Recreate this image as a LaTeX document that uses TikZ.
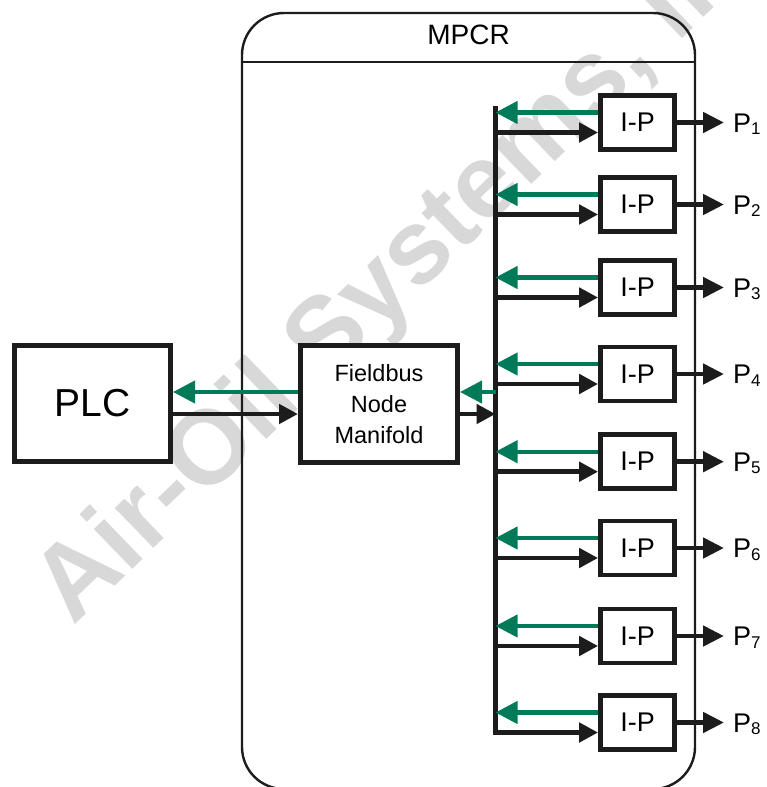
\documentclass[tikz,border=0pt]{standalone}
\usepackage{fontspec}
\setmainfont{Liberation Sans}
\usetikzlibrary{arrows.meta}
\definecolor{ink}{RGB}{28,28,28}
\definecolor{sig}{RGB}{0,122,88}
\definecolor{wmgray}{RGB}{216,216,216}
\begin{document}
\begin{tikzpicture}[x=1pt,y=-1pt,
  box/.style={draw=ink, line width=4.8pt, fill=white, inner sep=0pt, align=center},
  ipbox/.style={box, minimum width=74pt, minimum height=54pt, font=\fontsize{27}{27}\selectfont},
  blk/.style={draw=ink, line width=4.8pt, -{Triangle[length=19pt,width=19pt]}},
  grn/.style={draw=sig, line width=4.2pt, -{Triangle[length=22pt,width=22pt]}},
  outarr/.style={draw=ink, line width=4.8pt, -{Triangle[length=21pt,width=20pt]}},
  plabel/.style={anchor=base west, inner sep=0pt, font=\fontsize{27}{27}\selectfont},
  frame/.style={draw=ink, line width=2.4pt},
]
\useasboundingbox (0,0) rectangle (766,787);
\clip (0,0) rectangle (766,787);

% watermark
\node[text=wmgray, rotate=44, anchor=base west, inner sep=0pt,
      font=\fontsize{105}{105}\selectfont\bfseries] (watermark) at (73,627) {Air-Oil Systems, Inc.};

% MPCR container
\draw[frame, rounded corners=42pt] (242,13) rectangle (695,789);
\draw[frame] (242,62) -- (695,62);
\node[font=\fontsize{28}{28}\selectfont] (mpcr) at (468.5,35) {MPCR};

% main boxes
\node[box, minimum width=156.2pt, minimum height=116.2pt, font=\fontsize{39}{39}\selectfont] (plc) at (92.5,403.5) {PLC};
\node[box, minimum width=157.2pt, minimum height=117.2pt, font=\fontsize{23.5}{31}\selectfont] (fb) at (379,404) {Fieldbus\\Node\\Manifold};

% bus
\coordinate (bustop) at (495.5,106);
\coordinate (busbot) at (495.5,735);
\draw[ink, line width=5pt] (bustop) -- (busbot);

% I-P converters
\foreach \i/\y in {1/122.5,2/204.5,3/287.5,4/374,5/461.7,6/548,7/636,8/722.5} {
  \node[ipbox] (ip\i) at (637.5,\y) {I-P};
  \node[plabel] (p\i) at (733,{\y+9.5}) {P{\fontsize{17}{17}\selectfont\raisebox{-2.5pt}{\i}}};
  \draw[grn] ([yshift=10pt]ip\i.west) -- ([yshift=10pt]ip\i.west -| bustop);
  \draw[blk] ([yshift=-10pt]ip\i.west -| bustop) -- ([yshift=-10pt]ip\i.west);
  \draw[outarr] (ip\i.east) -- ([xshift=-9pt]p\i.west |- ip\i.east);
}

% fieldbus <-> bus
\draw[grn] ([yshift=12pt]fb.east -| bustop) -- ([yshift=12pt]fb.east);
\draw[blk] ([yshift=-10pt]fb.east) -- ([yshift=-10pt]fb.east -| bustop);

% PLC <-> fieldbus
\draw[grn] ([yshift=12pt]fb.west) -- ([yshift=12pt]fb.west -| plc.east);
\draw[blk] ([yshift=-10pt]fb.west -| plc.east) -- ([yshift=-10pt]fb.west);
\end{tikzpicture}
\end{document}
